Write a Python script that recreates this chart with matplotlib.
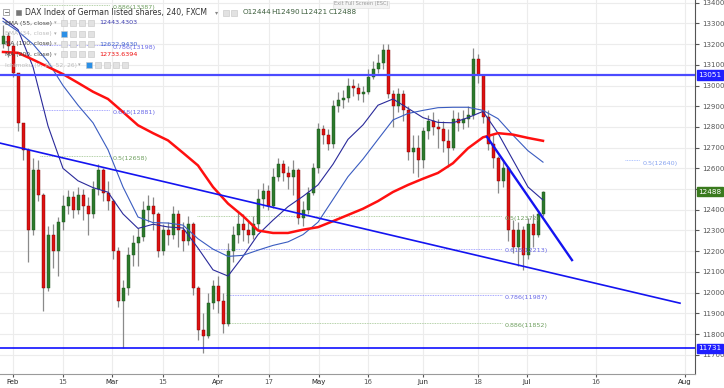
import numpy as np
import matplotlib
matplotlib.use("Agg")
import matplotlib.pyplot as plt
from matplotlib.patches import Rectangle

# daily candles (bar 0 = end of January)
closes = [13240, 13190, 13060, 12820, 12690, 12300, 12590, 12470, 12020, 12280,
          12200, 12340, 12420, 12460, 12400, 12470, 12420, 12380, 12500, 12590,
          12480, 12440, 12200, 11960, 12020, 12180, 12240, 12270, 12400, 12420,
          12380, 12200, 12300, 12280, 12380, 12300, 12250, 12330, 12020, 11820,
          11790, 11950, 12030, 11960, 11850, 12200, 12280, 12330, 12300, 12280,
          12330, 12450, 12490, 12420, 12560, 12620, 12580, 12560, 12590, 12360,
          12400, 12480, 12600, 12790, 12760, 12720, 12900, 12930, 12940, 13000,
          12990, 12960, 12970, 13040, 13080, 13110, 13170, 12960, 12900, 12960,
          12880, 12680, 12700, 12640, 12780, 12830, 12800, 12790, 12730, 12700,
          12840, 12820, 12840, 12860, 13130, 13050, 12850, 12720, 12650, 12540,
          12600, 12300, 12220, 12300, 12180, 12330, 12280, 12380, 12488]
highs = [13290, 13260, 13200, 13020, 12800, 12700, 12650, 12640, 12480, 12320,
         12330, 12365, 12470, 12495, 12490, 12510, 12500, 12460, 12540, 12620,
         12600, 12540, 12450, 12220, 12060, 12220, 12280, 12310, 12440, 12470,
         12460, 12390, 12330, 12340, 12420, 12400, 12340, 12370, 12340, 12030,
         11900, 12000, 12060, 12080, 12000, 12240, 12320, 12390, 12380, 12350,
         12370, 12500, 12530, 12520, 12600, 12650, 12640, 12610, 12640, 12600,
         12440, 12510, 12625, 12820, 12810, 12790, 12930, 12970, 12980, 13035,
         13030, 13010, 13000, 13080, 13120, 13150, 13200, 13200, 12980, 12990,
         12980, 12900, 12760, 12760, 12800, 12860, 12870, 12840, 12830, 12790,
         12880, 12870, 12880, 12900, 13180, 13150, 13050, 12880, 12760, 12660,
         12640, 12610, 12350, 12340, 12320, 12360, 12380, 12400, 12490]
lows = [13180, 13140, 13040, 12780, 12640, 12150, 12280, 12440, 11910, 12010,
        12120, 12080, 12300, 12380, 12360, 12380, 12350, 12280, 12360, 12470,
        12440, 12400, 12160, 11930, 11731, 11990, 12130, 12130, 12250, 12340,
        12300, 12170, 12180, 12230, 12260, 12220, 12200, 12230, 11990, 11770,
        11708, 11780, 11920, 11900, 11805, 11840, 12150, 12240, 12250, 12240,
        12260, 12300, 12410, 12400, 12410, 12540, 12540, 12500, 12470, 12330,
        12320, 12380, 12470, 12580, 12720, 12690, 12700, 12870, 12890, 12920,
        12950, 12930, 12920, 12960, 13030, 13060, 13080, 12940, 12800, 12870,
        12830, 12640, 12580, 12560, 12600, 12740, 12760, 12700, 12680, 12607,
        12690, 12780, 12790, 12800, 12840, 13010, 12820, 12690, 12600, 12480,
        12510, 12250, 12190, 12130, 12110, 12160, 12220, 12270, 12370]
first_open = 13200
opens = [first_open] + closes[:-1]

# moving averages read every 3 bars
ma_bars = list(range(0, 109, 3))
ema55 = [13325, 13270, 13090, 12805, 12600, 12540, 12507, 12485, 12380, 12310,
         12330, 12317, 12312, 12215, 12110, 12080, 12175, 12280, 12350, 12415,
         12465, 12520, 12620, 12740, 12810, 12905, 12935, 12890, 12845, 12822,
         12820, 12845, 12875, 12770, 12640, 12510, 12447]
ma100 = [13310, 13262, 13200, 13115, 13000, 12905, 12820, 12690, 12510, 12365,
         12338, 12336, 12326, 12260, 12210, 12175, 12180, 12205, 12228, 12245,
         12280, 12340, 12450, 12560, 12645, 12740, 12834, 12865, 12880, 12893,
         12895, 12895, 12880, 12840, 12760, 12685, 12630]
ma200 = [13162, 13158, 13125, 13090, 13055, 13013, 12970, 12935, 12872, 12808,
         12770, 12735, 12675, 12614, 12510, 12430, 12370, 12300, 12288, 12288,
         12304, 12316, 12345, 12375, 12405, 12442, 12486, 12520, 12550, 12578,
         12625, 12697, 12750, 12770, 12763, 12747, 12733]

# drawings
resist = 13051
support = 11731
trend1 = [(-0.6, 12722), (135.4, 11949)]
trend2 = [(96.8, 12752), (113.8, 12157)]
fib_left = [("0.886(13387)", 13387, "g"), ("0.786(13198)", 13198, "b"),
            ("0.618(12881)", 12881, "b"), ("0.5(12658)", 12658, "g")]
fib_right = [("0.5(12372)", 12372, "g", 38.8), ("0.618(12213)", 12213, "b", 38.8),
             ("0.786(11987)", 11987, "b", 44.6), ("0.886(11852)", 11852, "g", 44.0)]

tick_pos = [1.9, 12.0, 21.8, 31.9, 43.0, 53.2, 63.1, 73.0, 84.0, 95.0, 104.8, 118.5, 136.3]
tick_lab = ["Feb", "15", "Mar", "15", "Apr", "17", "May", "16", "Jun", "18", "Jul", "16", "Aug"]

plt.rcParams['font.family'] = ['DejaVu Sans']
fig = plt.figure(figsize=(7.24, 3.88), dpi=100)
ax = fig.add_axes([0, 14/388, 695/724, 374/388])
ax.set_xlim(-0.6, 138.4)
ax.set_ylim(11607, 13413)

# grid
for t in tick_pos:
    ax.axvline(t, color="#ececec", lw=0.8, zorder=0)
for p in range(11700, 13401, 100):
    ax.axhline(p, color="#ececec", lw=0.8, zorder=0)

# candles
x = np.arange(len(closes))
o = np.array(opens); c = np.array(closes)
up = c >= o
ax.vlines(x, lows, highs, color="#8a8a8a", lw=0.9, zorder=2)
body_lo = np.minimum(o, c)
body_h = np.maximum(np.abs(c - o), 6)
ax.bar(x[up], body_h[up], bottom=body_lo[up], width=0.6, color="#2c7a2c",
       edgecolor="#1a4d1a", lw=0.3, zorder=3)
ax.bar(x[~up], body_h[~up], bottom=body_lo[~up], width=0.6, color="#dd1111",
       edgecolor="#7a0000", lw=0.3, zorder=3)

# moving averages
ax.plot(ma_bars, ema55, color="#2a2a9a", lw=0.8, zorder=4)
ax.plot(ma_bars, ma100, color="#3a5cc0", lw=0.8, zorder=4)
ax.plot(ma_bars, ma200, color="#ff1010", lw=1.8, zorder=4)

# horizontal levels and trendlines
ax.axhline(resist, color="#4b4bff", lw=1.6, zorder=5)
ax.axhline(support, color="#1010ff", lw=1.2, zorder=5)
ax.plot(*zip(*trend1), color="#1414f0", lw=1.2, zorder=5)
ax.plot(*zip(*trend2), color="#1414f0", lw=1.7, zorder=5)

cols = {"g": ("#9cc38c", "#6f9f5f"), "b": ("#8c8cff", "#6a6ae8")}
for lab, lev, k in fib_left:
    ax.plot([7.4, 21.4], [lev, lev], ls=(0, (1, 1)), lw=0.6, color=cols[k][0], zorder=1)
    ax.text(22.0, lev - 12, lab, fontsize=4.6, color=cols[k][1], va="center", zorder=6)
for lab, lev, k, x0 in fib_right:
    ax.plot([x0, 99.8], [lev, lev], ls=(0, (1, 1)), lw=0.6, color=cols[k][0], zorder=1)
    ax.text(100.4, lev - 12, lab, fontsize=4.6, color=cols[k][1], va="center", zorder=6)
ax.plot([124.4, 127.4], [12640, 12640], ls=(0, (1, 1)), lw=0.6, color="#99b4ff", zorder=1)
ax.text(128.0, 12625, "0.5(12640)", fontsize=4.6, color="#88a4f0", va="center")

# axes styling
for s in ["top", "left"]:
    ax.spines[s].set_visible(False)
ax.spines["right"].set_color("#555555")
ax.spines["bottom"].set_color("#9a9a9a")
ax.yaxis.tick_right()
ax.set_yticks(range(11700, 13401, 100))
ax.tick_params(axis="y", labelsize=5, colors="#555555", length=3, pad=2)
ax.set_xticks(tick_pos)
ax.set_xticklabels(tick_lab)
ax.tick_params(axis="x", labelsize=5, colors="#555555", length=2, pad=1.5)
for lbl in ax.get_xticklabels():
    if lbl.get_text().isalpha():
        lbl.set_color("#222222")

for val, fc in [(resist, "#1f1fff"), (closes[-1], "#3a7a1e"), (support, "#1f1fff")]:
    ax.annotate(str(val), xy=(1, val), xycoords=("axes fraction", "data"),
                xytext=(2.5, 0), textcoords="offset points", fontsize=5.2,
                color="white", va="center", ha="left", annotation_clip=False,
                bbox=dict(boxstyle="square,pad=0.25", fc=fc, ec=fc), zorder=10)

# legend overlay (pixel coordinates)
ov = fig.add_axes([0, 0, 1, 1], zorder=5)
ov.set_xlim(0, 724)
ov.set_ylim(388, 0)
ov.axis("off")
ov.patch.set_alpha(0)

def icon(px, py, fc="#e2e2e2"):
    ov.add_patch(Rectangle((px, py - 3), 6, 6, fc=fc, ec="#c4c4c4", lw=0.4))

ov.add_patch(Rectangle((3, 9), 6, 6, fc="white", ec="#888888", lw=0.5))
ov.plot([4.5, 7.5], [12, 12], color="#666666", lw=0.6)
ov.add_patch(Rectangle((16, 9.5), 5, 5, fc="#777777", ec="#777777", lw=0.4))
ov.text(25, 12.5, "DAX Index of German listed shares, 240, FXCM", fontsize=5.6,
        color="#333333", va="center")
ov.text(215, 12.5, "\u25be", fontsize=4.5, color="#888888", va="center")
icon(223, 12.5); icon(231, 12.5)
ohlc = ["O12444", "H12490", "L12421", "C12488"]
for px, s in zip([243, 271, 300, 329], ohlc):
    ov.text(px, 12.5, s, fontsize=5.2, color="#3d5e3d", va="center")
ov.text(334, 4, "Exit Full Screen (ESC)", fontsize=3.6, color="#9a9a9a", va="center",
        bbox=dict(boxstyle="square,pad=0.2", fc="#f4f4f4", ec="#dddddd", lw=0.4))

rows = [("EMA (55, close)", 23, "#444444", "12443.4303", "#3b3bb0", False),
        ("EMA (34, close)", 33.7, "#bdbdbd", None, None, True),
        ("MA (100, close)", 44, "#444444", "12622.9430", "#3f5fd0", False),
        ("MA (200, close)", 54.3, "#444444", "12733.6394", "#ee1111", False)]
for name, py, tc, val, vc, hidden in rows:
    ov.text(5, py, name, fontsize=4.3, color=tc, va="center")
    ov.text(54, py, "\u25be", fontsize=3.8, color="#aaaaaa", va="center")
    for k, px in enumerate([61, 70, 79, 88]):
        icon(px, py, "#2b8fe6" if (hidden and k == 0) else "#e2e2e2")
    if val:
        ov.text(99, py, val, fontsize=4.6, color=vc, va="center")
ov.text(5, 65, "Ichimoku (9, 26, 52, 26)", fontsize=4.3, color="#bdbdbd", va="center")
ov.text(78, 65, "\u25be", fontsize=3.8, color="#aaaaaa", va="center")
for k, px in enumerate([86, 95, 104, 113, 122]):
    icon(px, 65, "#2b8fe6" if k == 0 else "#e2e2e2")

fig.savefig("out.png", dpi=100)
